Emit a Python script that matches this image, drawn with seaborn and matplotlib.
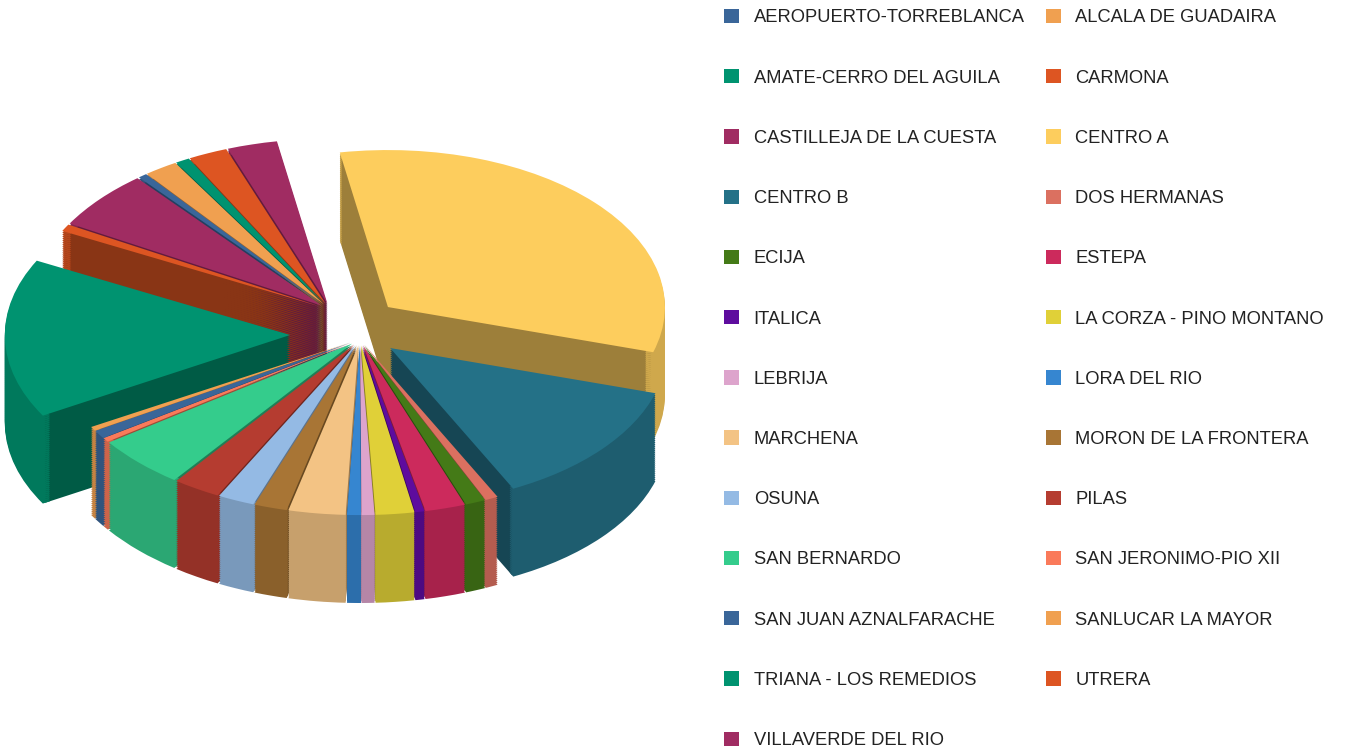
import numpy as np
import matplotlib
matplotlib.use("Agg")
import matplotlib.pyplot as plt
from matplotlib.patches import Patch
import seaborn as sns

sns.set_theme(style="white")
plt.rcParams['font.family'] = ['Liberation Sans', 'DejaVu Sans']

# districts in legend / slice order (clockwise)
districts = [
    "AEROPUERTO-TORREBLANCA", "ALCALA DE GUADAIRA", "AMATE-CERRO DEL AGUILA",
    "CARMONA", "CASTILLEJA DE LA CUESTA", "CENTRO A", "CENTRO B",
    "DOS HERMANAS", "ECIJA", "ESTEPA", "ITALICA", "LA CORZA - PINO MONTANO",
    "LEBRIJA", "LORA DEL RIO", "MARCHENA", "MORON DE LA FRONTERA", "OSUNA",
    "PILAS", "SAN BERNARDO", "SAN JERONIMO-PIO XII", "SAN JUAN AZNALFARACHE",
    "SANLUCAR LA MAYOR", "TRIANA - LOS REMEDIOS", "UTRERA", "VILLAVERDE DEL RIO",
]
# share of each district (%)
shares = [
    0.5, 1.9, 0.8, 2.2, 2.8, 32.6, 13.1,
    0.7, 1.1, 2.2, 0.5, 2.1,
    0.7, 0.75, 3.1, 1.8, 2.0,
    2.6, 5.0, 0.4, 0.8,
    0.4, 16.0, 0.7, 5.8,
]
palette_hex = [
    "#3a6699", "#f0a050", "#009370", "#dd5522", "#a02c62",
    "#fdcd5d", "#247187", "#db7060", "#447a17", "#cc2a5c",
    "#5e0c9e", "#e0d038", "#dda4cc", "#3686d0", "#f3c384",
    "#a87535", "#94bae4", "#b53c30", "#34cc8c", "#fa7a5a",
]

colors = np.array(sns.color_palette(palette_hex, n_colors=len(districts)))
side = colors * 0.62   # radial faces
rim = colors * 0.82    # outer curved face

# slices are pulled out in groups:
# (group centre, members, explode inside group, radius - imitates perspective)
groups = [
    ((-0.035, 0.161), [23, 24, 0, 1, 2, 3, 4], 0.04, 1.05),  # upper-left fan
    ((0.173, 0.178), [5], 0.0, 1.0),                         # CENTRO A
    ((0.181, -0.083), [6], 0.0, 1.0),                        # CENTRO B
    ((0.072, -0.027), list(range(7, 22)), 0.04, 1.08),       # front fan
    ((-0.18, 0.0), [22], 0.0, 1.03),                         # TRIANA
]

fig = plt.figure(figsize=(13.47, 7.54), dpi=100)
ax = fig.add_axes([0, 0, 700 / 1347, 1])

# CENTRO A starts a little left of 12 o'clock
start = 100 + 360 * sum(shares[:5]) / sum(shares)
depth = 0.56
n_layers = 45


def draw_layer(z, shade, shrink=1.0, **wedge):
    for (gx, gy), members, expl, r in groups:
        cols = [shade[i] if i in members else 'none' for i in range(len(shares))]
        ax.pie(shares, colors=cols, center=(gx, gy + z), radius=r * shrink,
               explode=[expl] * len(shares), startangle=start,
               counterclock=False, **wedge)


for j in range(n_layers, 0, -1):
    z = -depth * j / n_layers
    draw_layer(z, side, shrink=0.99, wedgeprops=dict(linewidth=0))
    draw_layer(z, rim, wedgeprops=dict(linewidth=0, width=0.03))
draw_layer(0, colors, wedgeprops=dict(linewidth=0))

# squash into a tilted ellipse
ax.set_aspect('auto')
ax.set_xlim(-340 / 277, (700 - 340) / 277)
ax.set_ylim((335 - 754) / 157, 335 / 157)
ax.axis('off')

# legend, filled row by row in two columns
handles = [Patch(facecolor=c, edgecolor='none', label=d)
           for c, d in zip(colors, districts)]
order = list(range(0, len(handles), 2)) + list(range(1, len(handles), 2))
fig.legend(handles=[handles[i] for i in order], loc='upper left',
           bbox_to_anchor=(724 / 1347, 1 - 9 / 754), ncol=2, frameon=False,
           fontsize=13.2, labelcolor='#222222', handlelength=0.82,
           handleheight=0.82, handletextpad=0.8, columnspacing=1.15,
           labelspacing=2.33, borderpad=0, borderaxespad=0)

fig.savefig("out.png", dpi=100, facecolor='white')
